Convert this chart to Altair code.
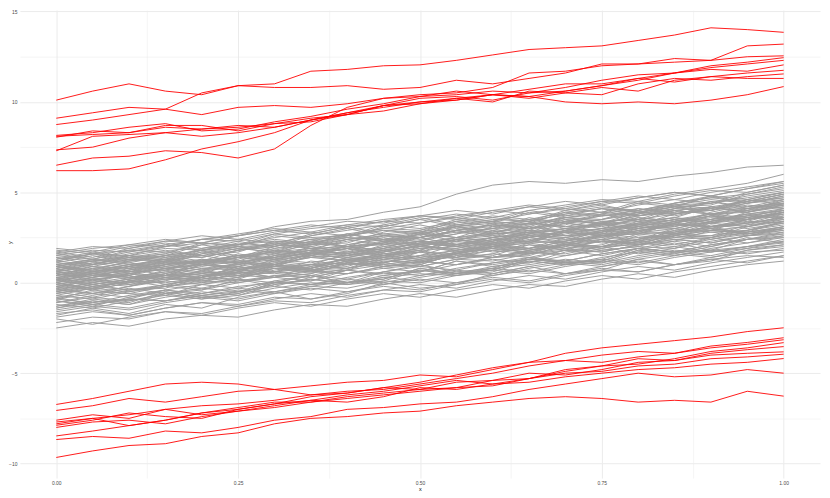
import altair as alt
import pandas as pd

x_vals = [0.00, 0.05, 0.10, 0.15, 0.20, 0.25, 0.30, 0.35, 0.40, 0.45, 0.50,
          0.55, 0.60, 0.65, 0.70, 0.75, 0.80, 0.85, 0.90, 0.95, 1.00]

gray_lines = [
    [0.3,0.5,0.4,0.8,1.0,0.9,1.2,1.5,1.4,1.7,2.0,1.9,2.2,2.6,2.5,2.8,3.1,3.0,3.4,3.6,3.8],
    [-0.5,-0.2,0.1,0.0,0.3,0.6,0.5,0.7,1.1,1.0,1.3,1.6,1.4,1.8,2.1,2.0,2.4,2.7,2.6,2.9,3.2],
    [1.2,1.0,1.4,1.7,1.5,1.9,2.2,2.1,2.5,2.4,2.8,3.1,2.9,3.3,3.6,3.5,3.9,4.2,4.0,4.4,4.6],
    [-1.3,-1.0,-1.2,-0.8,-0.5,-0.7,-0.3,0.0,-0.1,0.3,0.5,0.4,0.8,1.0,1.3,1.1,1.5,1.8,1.7,2.0,2.3],
    [0.8,1.1,1.3,1.2,1.6,1.9,1.7,2.1,2.4,2.6,2.5,2.9,3.2,3.0,3.4,3.7,3.9,3.8,4.2,4.5,4.7],
    [-0.1,0.2,0.0,0.4,0.3,0.7,1.0,0.8,1.2,1.1,1.5,1.4,1.8,2.1,1.9,2.3,2.2,2.6,2.9,2.8,3.1],
    [1.8,1.6,2.0,2.3,2.2,2.6,2.9,2.7,3.1,3.4,3.3,3.7,4.0,3.8,4.2,4.5,4.4,4.8,5.1,5.0,5.4],
    [-2.2,-1.9,-2.0,-1.6,-1.7,-1.3,-1.0,-1.1,-0.7,-0.4,-0.5,-0.1,0.2,0.0,0.4,0.7,0.6,1.0,1.3,1.1,1.5],
    [0.5,0.3,0.6,0.9,0.7,1.1,1.4,1.6,1.5,1.9,2.2,2.0,2.4,2.3,2.7,3.0,2.8,3.2,3.5,3.7,3.6],
    [-0.8,-0.5,-0.6,-0.2,0.1,0.0,0.4,0.3,0.7,1.0,0.9,1.3,1.6,1.4,1.8,1.7,2.1,2.4,2.2,2.6,2.9],
    [0.0,-0.3,0.1,0.4,0.6,0.5,0.9,0.8,1.2,1.5,1.7,1.6,2.0,2.3,2.2,2.6,2.9,3.2,3.1,3.5,3.8],
    [1.5,1.8,1.7,2.1,2.4,2.3,2.7,3.0,3.2,3.1,3.5,3.8,3.6,4.0,4.3,4.6,4.5,4.9,5.2,5.5,6.0],
    [-1.7,-1.5,-1.8,-1.4,-1.1,-1.2,-0.8,-0.9,-0.5,-0.2,-0.4,0.0,0.3,0.1,0.5,0.8,0.6,1.0,1.3,1.5,1.4],
    [0.9,0.7,1.0,0.8,1.2,1.5,1.3,1.7,2.0,1.8,2.2,2.5,2.3,2.7,3.0,2.8,3.2,3.5,3.3,3.7,4.0],
    [-0.4,-0.1,0.2,0.4,0.3,0.7,0.6,1.0,1.3,1.1,1.5,1.8,2.0,1.9,2.3,2.6,2.4,2.8,3.1,3.3,3.5],
    [0.2,0.5,0.7,1.0,1.2,1.5,1.4,1.8,2.1,2.4,2.3,2.7,3.0,3.3,3.1,3.5,3.8,4.1,4.0,4.4,4.8],
    [-1.0,-1.2,-0.9,-1.0,-0.7,-0.4,-0.6,-0.2,0.1,-0.1,0.3,0.6,0.4,0.8,1.1,0.9,1.3,1.6,1.4,1.8,2.0],
    [1.0,1.3,1.1,1.5,1.8,2.1,2.3,2.2,2.6,2.9,2.8,3.2,3.5,3.4,3.8,4.1,4.0,4.4,4.7,4.9,5.2],
    [-0.2,-0.4,0.0,0.2,0.1,0.5,0.8,0.6,1.0,1.3,1.1,1.5,1.4,1.8,2.1,1.9,2.3,2.6,2.4,2.8,3.0],
    [0.6,0.9,0.8,1.2,1.0,1.4,1.7,1.5,1.9,2.2,2.0,2.4,2.7,2.9,2.8,3.2,3.5,3.3,3.7,4.0,4.2],
    [-2.5,-2.2,-2.4,-2.0,-1.8,-1.9,-1.5,-1.2,-1.3,-0.9,-0.6,-0.8,-0.4,-0.1,-0.2,0.2,0.5,0.3,0.7,1.0,1.2],
    [1.4,1.2,1.6,1.9,1.8,2.2,2.0,2.4,2.7,3.0,2.9,3.3,3.6,3.4,3.8,4.1,3.9,4.3,4.6,4.4,4.8],
    [-0.6,-0.3,-0.5,-0.1,0.2,0.4,0.3,0.7,0.5,0.9,1.2,1.0,1.4,1.7,1.6,2.0,2.3,2.1,2.5,2.8,3.1],
    [0.4,0.6,0.9,0.7,1.1,1.4,1.2,1.6,1.9,1.7,2.1,2.4,2.6,2.5,2.9,3.2,3.0,3.4,3.7,3.5,3.9],
    [-1.5,-1.2,-1.4,-1.0,-0.7,-0.9,-0.5,-0.2,-0.3,0.1,0.0,0.4,0.7,0.5,0.9,1.2,1.0,1.4,1.7,2.0,2.2],
    [0.1,0.4,0.3,0.6,0.9,1.2,1.0,1.4,1.7,1.5,1.9,2.2,2.1,2.5,2.8,2.6,3.0,3.3,3.6,3.5,3.9],
    [1.1,0.9,1.3,1.6,1.4,1.8,2.1,1.9,2.3,2.6,2.5,2.9,3.2,3.0,3.4,3.3,3.7,4.0,3.8,4.2,4.4],
    [-0.9,-1.1,-0.7,-0.4,-0.6,-0.2,0.0,-0.1,0.3,0.6,0.4,0.8,1.1,1.3,1.2,1.6,1.9,1.7,2.1,2.4,2.6],
    [0.7,1.0,1.2,1.5,1.4,1.8,2.1,2.0,2.4,2.7,2.5,2.9,3.2,3.5,3.3,3.7,4.0,4.3,4.1,4.5,4.9],
    [-0.3,0.0,-0.2,0.2,0.5,0.3,0.7,1.0,0.8,1.2,1.1,1.5,1.8,1.6,2.0,2.3,2.1,2.5,2.8,2.6,3.0],
    [0.0,0.3,0.5,0.4,0.8,0.7,1.1,1.4,1.2,1.6,1.9,1.8,2.2,2.5,2.3,2.7,3.0,3.2,3.1,3.5,3.7],
    [1.6,1.9,2.1,2.0,2.4,2.7,3.0,2.8,3.2,3.5,3.7,3.6,4.0,4.3,4.1,4.5,4.8,4.6,5.0,5.3,5.6],
    [-1.1,-0.8,-1.0,-0.6,-0.3,-0.5,-0.1,0.2,0.0,0.4,0.7,0.5,0.9,1.2,1.0,1.4,1.7,1.5,1.9,2.2,2.5],
    [0.5,0.8,0.6,1.0,1.3,1.1,1.5,1.8,1.6,2.0,2.3,2.1,2.5,2.8,3.0,2.9,3.3,3.6,3.4,3.8,4.1],
    [-0.7,-0.9,-0.5,-0.2,-0.4,0.0,0.3,0.1,0.5,0.8,0.6,1.0,1.3,1.1,1.5,1.8,2.0,1.9,2.3,2.6,2.8],
    [0.9,1.2,1.4,1.3,1.7,2.0,1.8,2.2,2.5,2.3,2.7,3.0,2.8,3.2,3.5,3.3,3.7,4.0,4.2,4.1,4.5],
    [-1.9,-1.6,-1.8,-1.4,-1.1,-1.3,-0.9,-0.6,-0.8,-0.4,-0.1,-0.3,0.1,0.4,0.2,0.6,0.9,0.7,1.1,1.4,1.7],
    [0.3,0.1,0.5,0.8,0.6,1.0,1.3,1.1,1.5,1.8,2.0,1.9,2.3,2.6,2.4,2.8,3.1,2.9,3.3,3.6,3.9],
    [1.3,1.6,1.8,1.7,2.1,2.4,2.2,2.6,2.9,3.2,3.0,3.4,3.7,3.5,3.9,4.2,4.0,4.4,4.7,4.5,4.9],
    [-0.4,-0.6,-0.2,0.1,-0.1,0.3,0.6,0.4,0.8,1.1,0.9,1.3,1.2,1.6,1.9,1.7,2.1,2.4,2.2,2.6,2.7],
    [0.6,0.4,0.7,1.0,1.2,1.1,1.5,1.8,1.6,2.0,2.3,2.1,2.5,2.8,2.6,3.0,3.3,3.1,3.5,3.8,4.0],
    [-1.4,-1.1,-0.9,-1.0,-0.6,-0.3,-0.5,-0.1,0.2,0.0,0.4,0.7,0.5,0.9,1.2,1.0,1.4,1.7,1.5,1.9,2.1],
    [0.2,0.0,0.3,0.6,0.4,0.8,1.1,0.9,1.3,1.6,1.4,1.8,2.1,1.9,2.3,2.6,2.8,2.7,3.1,3.4,3.3],
    [1.7,2.0,1.9,2.3,2.6,2.4,2.8,3.1,3.4,3.3,3.7,4.0,3.8,4.2,4.5,4.3,4.7,5.0,4.8,5.2,5.5],
    [-0.2,0.1,-0.1,0.3,0.6,0.4,0.8,0.7,1.1,1.4,1.2,1.6,1.9,1.7,2.1,2.4,2.2,2.6,2.9,3.1,3.4],
    [-2.0,-2.3,-1.9,-1.6,-1.8,-1.4,-1.1,-1.3,-0.9,-0.6,-0.8,-0.4,-0.1,-0.3,0.1,0.4,0.2,0.6,0.9,1.2,1.5],
    [0.9,0.6,1.0,1.3,1.1,1.5,1.8,1.6,2.0,2.3,2.1,2.5,2.8,3.1,2.9,3.3,3.6,3.4,3.8,4.1,4.3],
    [-0.5,-0.8,-0.4,-0.1,-0.3,0.1,0.4,0.6,0.5,0.9,1.2,1.0,1.4,1.7,1.5,1.9,2.2,2.0,2.4,2.7,2.9],
    [1.0,1.2,1.5,1.4,1.8,2.1,2.4,2.2,2.6,2.9,2.7,3.1,3.4,3.2,3.6,3.9,3.7,4.1,4.4,4.7,5.0],
    [0.1,-0.1,0.2,0.5,0.3,0.7,1.0,0.8,1.2,1.5,1.3,1.7,2.0,1.8,2.2,2.5,2.3,2.7,3.0,3.3,3.6],
    [-1.2,-1.4,-1.0,-0.7,-0.9,-0.5,-0.2,-0.4,0.0,0.3,0.1,0.5,0.8,0.6,1.0,1.3,1.1,1.5,1.8,1.6,1.9],
    [1.9,1.7,2.1,2.4,2.2,2.6,2.9,3.2,3.0,3.4,3.7,3.5,3.9,4.2,4.0,4.4,4.7,5.0,4.8,5.2,5.6],
    [0.4,0.7,0.5,0.9,1.2,1.0,1.4,1.7,1.5,1.9,2.2,2.0,2.4,2.7,2.5,2.9,3.2,3.0,3.4,3.7,4.0],
    [-0.9,-0.6,-0.8,-0.4,-0.1,-0.3,0.1,0.4,0.2,0.6,0.9,0.7,1.1,1.4,1.2,1.6,1.9,1.7,2.1,2.4,2.5],
    [1.5,1.3,1.7,2.0,2.2,2.1,2.5,2.8,2.6,3.0,3.3,3.6,3.4,3.8,4.1,3.9,4.3,4.6,4.4,4.8,5.1],
    [-0.1,-0.3,0.1,0.3,0.2,0.6,0.9,0.7,1.1,1.4,1.2,1.6,1.9,1.7,2.1,2.0,2.4,2.7,2.5,2.9,3.3],
    [0.7,0.5,0.9,1.2,1.0,1.4,1.3,1.7,2.0,1.8,2.2,2.5,2.3,2.7,3.0,3.3,3.1,3.5,3.8,3.6,4.1],
    [-1.6,-1.3,-1.5,-1.1,-0.8,-1.0,-0.6,-0.3,-0.5,-0.1,0.2,0.0,0.4,0.7,0.5,0.9,1.2,1.0,1.4,1.7,1.8],
    [0.3,0.6,0.8,1.1,1.0,1.4,1.7,1.9,1.8,2.2,2.5,2.8,2.6,3.0,3.3,3.1,3.5,3.8,4.1,4.0,4.4],
    [1.2,1.6,1.5,2.0,2.4,2.6,3.1,3.4,3.5,3.9,4.2,4.9,5.4,5.6,5.5,5.7,5.6,5.9,6.1,6.4,6.5],
    [0.4,0.9,0.6,0.7,1.3,1.1,1.0,1.6,1.9,1.5,1.8,2.4,2.2,2.3,2.9,3.3,2.9,3.1,3.7,3.5,3.9],
    [-0.3,0.2,0.4,-0.1,0.3,0.9,0.6,0.8,1.4,1.2,1.1,1.7,2.1,1.8,2.0,2.6,2.3,2.9,3.0,2.8,3.4],
    [1.0,0.6,0.9,1.4,1.1,1.3,1.9,2.3,2.0,2.2,2.7,2.5,3.1,3.4,3.0,3.3,3.9,3.7,4.1,4.6,4.3],
    [-0.9,-0.4,-0.6,-0.7,-0.1,0.2,-0.2,0.3,0.7,0.5,0.6,1.2,1.0,1.3,1.8,1.5,1.9,2.3,2.0,2.4,2.7],
    [0.6,1.0,1.5,1.1,1.2,1.8,2.2,1.9,2.0,2.6,2.4,2.7,3.3,3.0,3.2,3.8,4.1,3.8,4.0,4.5,4.9],
    [0.2,-0.2,0.1,0.5,0.2,0.4,1.0,0.7,0.9,1.5,1.3,1.4,2.0,2.4,2.1,2.3,2.9,2.7,3.3,3.1,3.6],
    [1.3,1.7,1.4,1.6,2.2,2.0,2.1,2.7,3.1,2.7,2.9,3.5,3.3,3.4,4.0,4.3,3.9,4.2,4.8,4.6,5.0],
    [-1.1,-0.7,-0.3,-0.6,-0.4,0.2,0.0,0.1,0.7,0.4,0.6,1.2,0.9,1.1,1.7,2.0,1.6,1.9,2.5,2.2,2.6],
    [0.0,0.5,0.3,0.4,1.0,0.8,0.9,1.5,1.2,1.4,2.0,2.4,2.0,2.2,2.8,2.6,2.7,3.3,3.1,3.2,3.7],
    [0.8,0.4,0.7,1.2,1.5,1.2,1.4,2.0,1.7,1.9,2.5,2.9,2.5,2.7,3.3,3.0,3.2,3.8,4.2,3.9,4.2],
    [-0.6,-0.2,-0.4,-0.3,0.3,0.6,0.3,0.5,1.1,0.8,1.0,1.6,1.4,1.5,2.1,1.8,2.0,2.6,3.0,2.7,3.0],
    [1.6,1.3,1.8,2.1,1.8,2.0,2.6,2.4,2.5,3.1,3.5,3.1,3.3,3.9,3.6,3.8,4.4,4.2,4.3,4.9,5.3],
    [-0.1,0.3,0.8,0.4,0.5,1.1,0.9,1.0,1.6,1.3,1.5,2.1,2.5,2.2,2.3,2.9,2.7,2.8,3.4,3.8,3.5],
    [0.5,0.2,0.4,1.0,0.7,0.9,1.5,1.9,1.5,1.7,2.3,2.0,2.2,2.8,2.6,2.7,3.3,3.6,3.3,3.5,4.0],
    [-1.4,-1.0,-1.2,-0.6,-0.9,-0.7,-0.1,0.2,-0.1,0.1,0.7,0.4,0.6,1.2,1.0,1.1,1.7,2.0,1.7,1.9,2.3],
    [1.1,1.5,1.2,1.3,1.9,2.3,1.9,2.1,2.7,2.4,2.6,3.2,3.0,3.1,3.7,4.1,3.7,3.9,4.5,4.2,4.6],
    [0.3,-0.1,0.2,0.7,0.4,0.6,1.2,1.0,1.1,1.7,2.1,1.7,1.9,2.5,2.2,2.4,3.0,2.8,2.9,3.5,3.9],
    [-0.4,0.0,0.5,0.2,0.3,0.9,0.6,0.8,1.4,1.8,1.4,1.6,2.2,1.9,2.1,2.7,2.5,2.6,3.2,3.0,3.3],
    [0.9,1.3,1.0,1.2,1.8,1.5,1.7,2.3,2.7,2.3,2.5,3.1,2.8,3.0,3.6,3.4,3.5,4.1,4.5,4.1,4.4],
    [-0.8,-1.2,-0.9,-0.4,-0.7,-0.5,0.1,-0.1,0.0,0.6,1.0,0.6,0.8,1.4,1.1,1.3,1.9,1.7,1.8,2.4,2.8],
    [0.1,0.5,0.2,0.4,1.0,0.7,0.9,1.5,1.9,1.5,1.7,2.3,2.0,2.2,2.8,2.6,2.7,3.3,3.7,3.3,3.6],
    [1.4,1.0,1.5,1.8,1.5,1.7,2.3,2.1,2.2,2.8,3.2,2.8,3.0,3.6,3.3,3.5,4.1,3.9,4.0,4.6,5.0],
    [-0.5,-0.1,-0.4,-0.2,0.4,0.1,0.3,0.9,1.3,0.9,1.1,1.7,1.4,1.6,2.2,2.0,2.1,2.7,3.1,2.7,3.1],
    [0.6,0.3,0.6,1.1,0.8,1.0,1.6,1.4,1.5,2.1,2.5,2.1,2.3,2.9,2.6,2.8,3.4,3.2,3.3,3.9,4.3],
    [-1.8,-1.4,-1.7,-1.2,-1.4,-0.8,-0.5,-0.9,-0.6,0.0,-0.3,-0.1,0.5,0.9,0.5,0.7,1.3,1.0,1.2,1.8,2.1],
    [1.0,0.7,1.2,1.5,1.2,1.4,2.0,2.4,2.0,2.2,2.8,2.5,2.7,3.3,3.1,3.2,3.8,4.2,3.8,4.0,4.6],
    [-0.2,0.2,-0.1,0.1,0.7,0.4,0.6,1.2,1.0,1.1,1.7,2.1,1.7,1.9,2.5,2.2,2.4,3.0,2.8,2.9,3.4],
    [0.4,0.8,1.1,0.8,1.0,1.6,1.3,1.5,2.1,2.5,2.1,2.3,2.9,2.6,2.8,3.4,3.2,3.3,3.9,4.3,4.1],
    [-1.0,-1.3,-0.8,-0.5,-0.8,-0.6,0.0,0.4,0.0,0.2,0.8,0.5,0.7,1.3,1.1,1.2,1.8,2.2,1.8,2.0,2.4],
    [0.8,1.2,0.9,1.1,1.7,1.4,1.6,2.2,2.0,2.1,2.7,3.1,2.7,2.9,3.5,3.2,3.4,4.0,3.8,3.9,4.4],
    [-0.3,-0.6,-0.2,0.3,0.0,0.2,0.8,0.6,0.7,1.3,1.7,1.3,1.5,2.1,1.8,2.0,2.6,2.4,2.5,3.1,3.5],
    [1.2,1.6,1.3,1.5,2.1,1.8,2.0,2.6,3.0,2.6,2.8,3.4,3.1,3.3,3.9,3.7,3.8,4.4,4.8,4.4,4.7],
    [0.0,-0.4,0.0,0.4,0.1,0.3,0.9,0.7,0.8,1.4,1.8,1.4,1.6,2.2,1.9,2.1,2.7,2.5,2.6,3.2,3.4],
    [0.7,1.1,0.8,1.0,1.6,2.0,1.6,1.8,2.4,2.1,2.3,2.9,2.7,2.8,3.4,3.8,3.4,3.6,4.2,3.9,4.3],
    [-0.7,-0.3,0.1,-0.2,0.0,0.6,0.3,0.5,1.1,0.9,1.0,1.6,2.0,1.6,1.8,2.4,2.1,2.3,2.9,2.7,3.0],
    [0.5,0.1,0.5,0.8,0.5,0.7,1.3,1.7,1.3,1.5,2.1,1.8,2.0,2.6,2.4,2.5,3.1,3.5,3.1,3.3,3.8],
    [1.7,1.4,1.9,2.2,1.9,2.1,2.7,2.5,2.6,3.2,3.6,3.2,3.4,4.0,3.7,3.9,4.5,4.3,4.4,5.0,5.4],
    [-1.3,-0.9,-1.1,-0.5,-0.8,-0.6,0.0,0.4,0.0,0.2,0.8,0.5,0.7,1.3,1.1,1.2,1.8,1.6,2.0,2.5,2.2],
    [0.2,0.6,0.3,0.5,1.1,0.8,1.0,1.6,2.0,1.6,1.8,2.4,2.1,2.3,2.9,2.7,2.8,3.4,3.8,3.4,3.9],
    [0.9,0.5,0.9,1.3,1.0,1.2,1.8,1.6,1.7,2.3,2.7,2.3,2.5,3.1,2.8,3.0,3.6,3.4,3.5,4.1,4.5],
]

red_top = [
    [8.75,9.0,9.3,9.6,10.5,10.9,11.0,11.7,11.8,12.0,12.05,12.3,12.6,12.9,13.0,13.1,13.4,13.7,14.1,14.0,13.85],
    [9.1,9.4,9.7,9.6,9.3,9.7,9.8,9.7,9.9,10.2,10.4,10.5,10.8,11.6,11.7,12.0,12.1,12.2,12.3,13.1,13.2],
    [10.1,10.6,11.0,10.6,10.4,10.9,10.8,10.8,10.9,10.7,10.8,11.2,11.0,11.3,11.6,12.1,12.1,12.4,12.3,12.5,12.55],
    [8.15,8.3,8.6,8.8,8.4,8.5,8.9,9.2,9.6,9.9,10.3,10.4,10.6,10.5,10.8,11.2,11.5,11.6,11.9,12.1,12.3],
    [8.05,8.4,8.3,8.7,8.7,8.4,8.8,9.1,9.3,9.8,10.2,10.3,10.1,10.5,10.6,10.9,11.3,11.6,11.8,11.7,12.05],
    [7.35,7.5,8.0,8.3,8.5,8.7,8.6,9.0,9.4,9.7,10.0,10.1,10.4,10.2,10.5,10.8,10.6,11.2,11.4,11.6,11.75],
    [7.3,8.1,8.2,8.3,8.1,8.3,8.6,9.0,9.3,9.8,10.0,10.2,10.0,10.6,10.5,10.4,11.0,11.3,11.2,11.4,11.55],
    [6.5,6.9,7.0,7.3,7.2,6.9,7.4,8.7,9.7,10.2,10.3,10.6,10.4,10.7,11.0,11.0,11.3,11.1,11.4,11.3,11.3],
    [6.2,6.2,6.3,6.8,7.4,7.8,8.3,9.0,9.4,9.8,9.9,10.2,10.4,10.3,10.0,9.9,10.0,9.9,10.1,10.4,10.85],
    [8.1,8.2,8.3,8.6,8.5,8.6,8.8,8.9,9.3,9.5,9.9,10.1,10.4,10.3,10.6,10.9,11.2,11.6,12.0,12.2,12.45],
]

red_bottom = [
    [-6.73,-6.4,-6.0,-5.6,-5.5,-5.6,-5.9,-6.2,-6.1,-5.8,-5.5,-5.1,-4.7,-4.4,-4.3,-4.0,-3.8,-3.9,-3.5,-3.3,-3.04],
    [-7.06,-6.8,-6.4,-6.6,-6.3,-6.0,-5.9,-5.7,-5.5,-5.4,-5.1,-5.2,-4.8,-4.4,-3.9,-3.6,-3.4,-3.2,-3.0,-2.7,-2.49],
    [-7.6,-7.3,-7.5,-7.0,-6.8,-6.7,-6.5,-6.2,-6.0,-5.9,-5.6,-5.3,-5.0,-4.6,-4.3,-4.4,-4.1,-3.9,-3.6,-3.4,-3.15],
    [-7.7,-7.5,-7.9,-7.6,-7.2,-6.9,-6.6,-6.6,-6.3,-6.1,-5.9,-5.8,-5.4,-5.3,-4.9,-4.6,-4.5,-4.2,-3.8,-3.6,-3.31],
    [-7.8,-7.5,-7.3,-7.0,-7.3,-7.1,-6.8,-6.5,-6.2,-6.0,-5.7,-5.4,-5.6,-5.3,-4.8,-4.6,-4.2,-4.3,-3.9,-3.7,-3.53],
    [-7.88,-7.6,-7.2,-7.4,-7.5,-7.0,-6.7,-6.3,-6.1,-5.8,-5.9,-5.5,-5.4,-5.0,-5.1,-4.8,-4.4,-4.3,-4.0,-3.9,-3.82],
    [-8.0,-7.7,-7.6,-7.8,-7.4,-7.1,-6.9,-6.6,-6.4,-6.2,-6.0,-5.8,-5.7,-5.3,-5.0,-4.9,-4.6,-4.5,-4.2,-4.1,-3.95],
    [-8.47,-8.2,-7.9,-7.6,-7.2,-7.0,-6.7,-6.5,-6.6,-6.3,-5.8,-5.9,-5.6,-5.5,-5.2,-5.0,-4.8,-4.7,-4.5,-4.4,-4.19],
    [-8.67,-8.5,-8.6,-8.2,-8.3,-8.0,-7.6,-7.4,-7.0,-6.9,-6.7,-6.6,-6.3,-5.9,-5.6,-5.3,-5.0,-5.2,-5.1,-4.8,-5.0],
    [-9.66,-9.3,-9.0,-8.9,-8.5,-8.3,-7.8,-7.5,-7.4,-7.2,-7.1,-6.8,-6.6,-6.4,-6.3,-6.4,-6.6,-6.5,-6.6,-6.0,-6.27],
]


def to_long(lines, prefix):
    rows = []
    for i, ys in enumerate(lines):
        for xv, yv in zip(x_vals, ys):
            rows.append({"x": xv, "y": yv, "id": f"{prefix}{i}"})
    return pd.DataFrame(rows)


df_gray = to_long(gray_lines, "g")
df_red = pd.concat([to_long(red_top, "t"), to_long(red_bottom, "b")], ignore_index=True)

x_scale = alt.Scale(domain=[-0.05, 1.05], nice=False, zero=False)
y_scale = alt.Scale(domain=[-10.8, 15.08], nice=False, zero=False)

x_major = "round(datum.value * 4) == datum.value * 4"
y_major = "datum.value % 5 == 0"

x_axis = alt.Axis(
    values=[0, 0.125, 0.25, 0.375, 0.5, 0.625, 0.75, 0.875, 1.0],
    format=".2f",
    labelExpr=f"({x_major}) ? datum.label : ''",
    title="x",
    grid=True,
    gridColor="#EBEBEB",
    gridWidth={"condition": {"test": x_major, "value": 1}, "value": 0.5},
    domain=False,
    ticks=False,
    labelFontSize=5,
    labelColor="#4D4D4D",
    labelPadding=3,
    labelFont="Liberation Sans",
    titleFont="Liberation Sans",
    titleFontSize=5.5,
    titleFontWeight="normal",
    titleColor="#000000",
    titlePadding=1,
)

y_axis = alt.Axis(
    values=[-10, -7.5, -5, -2.5, 0, 2.5, 5, 7.5, 10, 12.5, 15],
    labelExpr=f"({y_major}) ? datum.label : ''",
    title="y",
    grid=True,
    gridColor="#EBEBEB",
    gridWidth={"condition": {"test": y_major, "value": 1}, "value": 0.5},
    domain=False,
    ticks=False,
    labelFontSize=5,
    labelColor="#4D4D4D",
    labelPadding=3,
    labelFont="Liberation Sans",
    titleFont="Liberation Sans",
    titleFontSize=5.5,
    titleFontWeight="normal",
    titleColor="#000000",
    titleX=-10,
    titleY=234,
    titleAngle=270,
    titleAlign="center",
    titleBaseline="middle",
)

gray = alt.Chart(df_gray).mark_line(color="#9E9E9E", strokeWidth=1).encode(
    x=alt.X("x:Q", scale=x_scale, axis=x_axis),
    y=alt.Y("y:Q", scale=y_scale, axis=y_axis),
    detail="id:N",
)

red = alt.Chart(df_red).mark_line(color="#FF0000", strokeWidth=0.9).encode(
    x=alt.X("x:Q", scale=x_scale),
    y=alt.Y("y:Q", scale=y_scale),
    detail="id:N",
)

chart = alt.layer(gray, red).properties(
    width=807,
    height=472,
    padding={"left": 12, "top": 0, "right": 2, "bottom": 17},
    autosize=alt.AutoSizeParams(type="none"),
    background="white",
).configure_view(stroke=None)

chart.save("out.html", embed_options={"renderer": "svg", "actions": False})
